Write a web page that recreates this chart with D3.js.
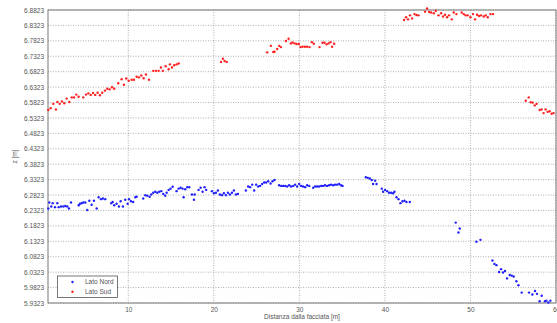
<!DOCTYPE html>
<html>
<head>
<meta charset="utf-8">
<script src="https://cdn.jsdelivr.net/npm/d3@7"></script>
<style>
  body { margin: 0; background: #fff; }
  svg { display: block; font-family: Arial, "Liberation Sans", sans-serif; }
</style>
</head>
<body>
<figure id="chart" style="margin:0"></figure>
<script>
// series names
const seriesNames = ["Lato Nord", "Lato Sud"];

// Lato Nord: [distanza, z]
const latoNord = [
  [0.65,6.2385],[0.77,6.258],[1.00,6.245],[1.17,6.256],[1.44,6.243],[1.71,6.256],[1.87,6.243],[2.14,6.245],
  [2.41,6.245],[2.64,6.247],[2.87,6.245],[3.07,6.2385],[3.31,6.258],[4.21,6.249],[4.36,6.254],[4.56,6.256],
  [4.74,6.258],[4.98,6.258],[5.21,6.234],[5.45,6.264],[5.72,6.251],[5.99,6.264],[6.31,6.2385],[6.54,6.275],
  [6.81,6.269],[7.04,6.271],[7.31,6.269],[8.01,6.256],[8.18,6.260],[8.36,6.249],[8.64,6.254],[8.91,6.245],
  [9.11,6.262],[9.38,6.245],[9.65,6.267],[9.93,6.254],[10.09,6.269],[10.32,6.262],[10.58,6.260],[10.82,6.275],
  [10.98,6.277],[11.75,6.271],[11.99,6.282],[12.22,6.280],[12.50,6.277],[12.69,6.284],[12.92,6.290],[13.16,6.293],
  [13.39,6.290],[13.62,6.293],[13.86,6.295],[14.09,6.286],[14.32,6.280],[14.49,6.290],[14.72,6.299],[14.95,6.303],
  [15.19,6.309],[15.65,6.295],[15.89,6.303],[16.12,6.306],[16.35,6.303],[16.47,6.275],[16.66,6.301],[16.90,6.308],
  [17.13,6.308],[17.44,6.284],[17.68,6.267],[17.76,6.284],[18.22,6.299],[18.46,6.306],[18.69,6.293],[18.92,6.308],
  [19.11,6.299],[19.78,6.295],[20.01,6.288],[20.25,6.290],[20.48,6.297],[20.71,6.284],[20.95,6.282],[21.18,6.288],
  [21.42,6.282],[21.65,6.290],[21.88,6.284],[22.12,6.290],[22.35,6.297],[22.58,6.284],[22.82,6.286],[23.75,6.297],
  [24.02,6.310],[24.25,6.308],[24.49,6.316],[24.72,6.297],[24.95,6.316],[25.19,6.310],[25.42,6.312],[25.65,6.318],
  [25.89,6.323],[26.12,6.323],[26.36,6.327],[26.64,6.320],[26.87,6.327],[27.10,6.331],[27.64,6.314],[27.88,6.312],
  [28.11,6.312],[28.34,6.312],[28.58,6.310],[28.81,6.314],[29.04,6.310],[29.28,6.312],[29.51,6.316],[29.74,6.310],
  [29.98,6.318],[30.21,6.312],[30.44,6.310],[30.68,6.308],[30.91,6.314],[31.15,6.312],[31.62,6.306],[31.85,6.310],
  [32.08,6.310],[32.31,6.310],[32.55,6.312],[32.78,6.312],[33.01,6.314],[33.25,6.312],[33.48,6.314],[33.71,6.316],
  [33.95,6.314],[34.18,6.316],[34.42,6.316],[34.65,6.318],[34.88,6.314],[35.05,6.312],
  [37.77,6.340],[38.00,6.338],[38.24,6.336],[38.47,6.331],[38.62,6.318],[38.86,6.329],[39.02,6.318],
  [39.64,6.303],[39.79,6.293],[40.02,6.299],[40.26,6.295],[40.49,6.290],[40.73,6.290],[40.96,6.288],[41.12,6.293],
  [41.36,6.275],[41.59,6.269],[41.82,6.256],[42.06,6.262],[42.29,6.264],[42.52,6.260],[42.91,6.260],
  [48.28,6.193],[48.60,6.161],[48.75,6.174],[50.70,6.131],[51.17,6.137],
  [52.57,6.070],[52.80,6.059],[53.04,6.055],[53.34,6.033],[53.58,6.042],[53.81,6.031],[54.04,6.036],[54.28,6.012],
  [54.59,6.023],[54.82,6.021],[55.05,6.018],[55.37,6.003],[55.61,5.990],[55.99,5.966],[56.85,5.966],[57.24,5.960],
  [57.55,5.971],[57.78,5.962],[58.09,5.938],[58.33,5.956],[58.71,5.938],[58.87,5.940],[59.11,5.934],[59.34,5.940]
];

// Lato Sud: [distanza, z]
const latoSud = [
  [0.65,6.558],[0.93,6.564],[1.24,6.578],[1.55,6.560],[1.71,6.584],[1.99,6.578],[2.25,6.586],[2.52,6.580],
  [2.80,6.595],[3.11,6.584],[3.39,6.599],[3.66,6.599],[3.93,6.608],[4.20,6.601],[4.74,6.599],[5.06,6.608],
  [5.33,6.612],[5.61,6.607],[5.88,6.613],[6.14,6.607],[6.42,6.614],[6.69,6.606],[6.96,6.614],[7.28,6.621],
  [7.55,6.627],[7.83,6.625],[8.10,6.632],[8.36,6.627],[8.83,6.645],[9.23,6.658],[9.50,6.640],[9.77,6.660],
  [10.05,6.653],[10.40,6.656],[10.67,6.656],[10.98,6.666],[11.25,6.664],[11.52,6.670],[11.80,6.661],[12.07,6.673],
  [12.42,6.656],[12.92,6.685],[13.24,6.685],[13.55,6.685],[13.82,6.696],[14.05,6.685],[14.37,6.700],[14.72,6.690],
  [14.87,6.706],[15.11,6.696],[15.37,6.703],[15.65,6.706],[15.89,6.709],
  [20.85,6.714],[21.06,6.724],[21.26,6.717],[21.50,6.714],
  [26.24,6.745],[26.67,6.766],[26.95,6.746],[27.10,6.747],[27.41,6.756],[27.64,6.766],[27.84,6.762],[28.43,6.782],
  [28.74,6.789],[29.00,6.774],[29.20,6.777],[29.44,6.774],[29.67,6.772],[29.94,6.772],[30.14,6.762],[30.37,6.763],
  [30.64,6.763],[30.91,6.763],[31.19,6.762],[31.46,6.778],[31.69,6.773],[32.36,6.762],[32.71,6.776],[32.94,6.776],
  [33.18,6.771],[33.41,6.774],[33.64,6.778],[33.83,6.763],[34.07,6.773],
  [42.24,6.850],[42.48,6.859],[42.71,6.852],[42.94,6.865],[43.18,6.855],[43.46,6.869],[43.69,6.866],[43.92,6.865],
  [44.70,6.877],[44.93,6.887],[45.17,6.876],[45.40,6.874],[45.71,6.872],[45.95,6.880],[46.26,6.865],[46.57,6.872],
  [46.80,6.861],[47.03,6.867],[47.27,6.859],[47.50,6.865],[47.82,6.852],[48.05,6.874],[48.36,6.869],[48.98,6.874],
  [49.22,6.869],[49.45,6.865],[49.68,6.865],[50.00,6.859],[50.30,6.869],[50.54,6.852],[50.77,6.867],[51.00,6.863],
  [51.24,6.865],[51.55,6.861],[51.79,6.865],[52.02,6.859],[52.34,6.869],[52.64,6.869],
  [56.46,6.588],[56.81,6.599],[57.04,6.583],[57.28,6.582],[57.51,6.573],[57.74,6.578],[58.09,6.558],[58.32,6.560],
  [58.55,6.548],[58.79,6.560],[59.02,6.552],[59.25,6.554],[59.49,6.546],[59.72,6.548]
];

// tick values
const xTicks = [10, 20, 30, 40, 50, 60];
const yTicks = [6.8823, 6.8323, 6.7823, 6.7323, 6.6823, 6.6323, 6.5823, 6.5323, 6.4823, 6.4323,
                6.3823, 6.3323, 6.2823, 6.2323, 6.1823, 6.1323, 6.0823, 6.0323, 5.9823, 5.9323];

const W = 557, H = 323;
const m = {top: 10, right: 1, bottom: 20, left: 48};

const svg = d3.select("#chart").append("svg")
  .attr("width", W).attr("height", H);

const x = d3.scaleLinear().domain([0.62, 60]).range([m.left, W - m.right]);
const y = d3.scaleLinear().domain([5.9323, 6.8823]).range([H - m.bottom, m.top]);

// grid
const grid = svg.append("g")
  .attr("stroke", "#9a9a9a").attr("stroke-width", 0.8).attr("stroke-dasharray", "1,1.5");
grid.selectAll("line.gx").data(xTicks).join("line")
  .attr("x1", d => x(d)).attr("x2", d => x(d))
  .attr("y1", m.top).attr("y2", H - m.bottom);
grid.selectAll("line.gy").data(yTicks).join("line")
  .attr("x1", m.left).attr("x2", W - m.right)
  .attr("y1", d => y(d)).attr("y2", d => y(d));

// axes
const xAxis = svg.append("g")
  .attr("transform", `translate(0,${H - m.bottom})`)
  .call(d3.axisBottom(x).tickValues(xTicks).tickSize(0).tickPadding(4).tickFormat(d3.format("d")));
const yAxis = svg.append("g")
  .attr("transform", `translate(${m.left},0)`)
  .call(d3.axisLeft(y).tickValues(yTicks).tickSize(0).tickPadding(4).tickFormat(d3.format(".4f")));
[xAxis, yAxis].forEach(a => {
  a.select(".domain").remove();
  a.selectAll("text").attr("fill", "#555").style("font-size", "6.5px");
});

// box
svg.append("rect")
  .attr("x", m.left).attr("y", m.top)
  .attr("width", W - m.right - m.left).attr("height", H - m.bottom - m.top)
  .attr("fill", "none").attr("stroke", "#777").attr("stroke-width", 1);

// points
const colors = ["#2020ff", "#ff2020"];
[latoNord, latoSud].forEach((s, i) => {
  svg.append("g").selectAll("circle").data(s).join("circle")
    .attr("cx", d => x(d[0])).attr("cy", d => y(d[1]))
    .attr("r", 1.2).attr("fill", colors[i]);
});

// labels
svg.append("text")
  .attr("x", 302).attr("y", 319)
  .attr("text-anchor", "middle").attr("fill", "#555").style("font-size", "6.5px")
  .text("Distanza dalla facciata [m]");
svg.append("text")
  .attr("transform", `translate(17,${(m.top + H - m.bottom) / 2}) rotate(-90)`)
  .attr("text-anchor", "middle").attr("fill", "#555").style("font-size", "6.5px")
  .text("z [m]");

// legend
const lg = svg.append("g");
lg.append("rect").attr("x", 57.5).attr("y", 276).attr("width", 60).attr("height", 21.5)
  .attr("fill", "#fff").attr("stroke", "#555").attr("stroke-width", 0.8);
seriesNames.forEach((n, i) => {
  lg.append("circle").attr("cx", 72.5).attr("cy", 282 + i * 9.7).attr("r", 1.2).attr("fill", colors[i]);
  lg.append("text").attr("x", 85).attr("y", 282 + i * 9.7).attr("dy", "0.35em")
    .attr("fill", "#555").style("font-size", "6.5px").text(n);
});
</script>
</body>
</html>
